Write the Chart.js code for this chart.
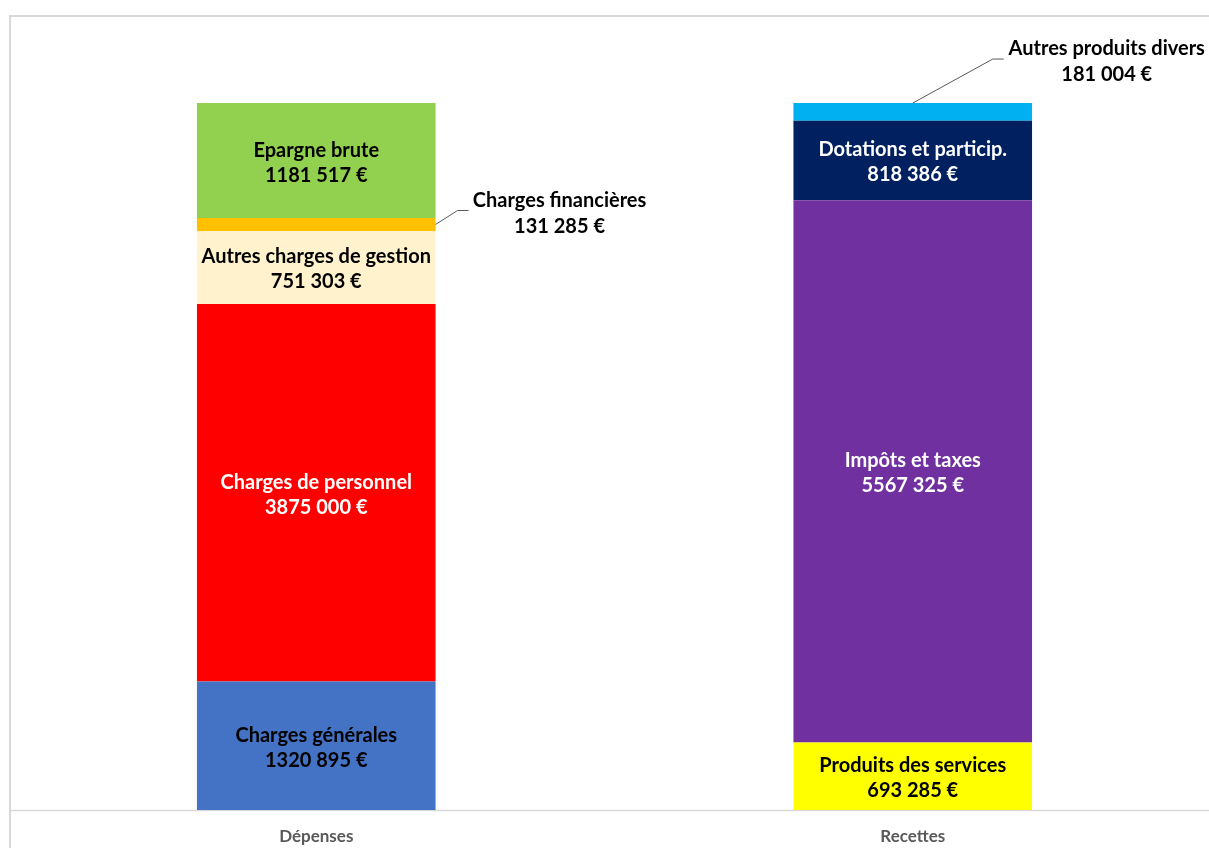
<!DOCTYPE html>
<html>
<head>
<meta charset="utf-8">
<script src="https://cdn.jsdelivr.net/npm/chart.js@4/dist/chart.umd.min.js"></script>
<style>
  html, body { margin: 0; padding: 0; background: #fff; overflow: hidden; }
  #chart { display: block; }
</style>
</head>
<body>
<canvas id="chart" width="1230" height="848"></canvas>
<script>
const categories = ["Dépenses", "Recettes"];

const depensesLabels = ["Charges générales", "Charges de personnel", "Autres charges de gestion", "Charges financières", "Epargne brute"];
const depensesValues = [1320895, 3875000, 751303, 131285, 1181517];
const depensesColors = ["#4472C4", "#FF0000", "#FFF2CC", "#FFC000", "#92D050"];
const depensesText = ["#000000", "#FFFFFF", "#000000", "#000000", "#000000"];

const recettesLabels = ["Produits des services", "Impôts et taxes", "Dotations et particip.", "Autres produits divers"];
const recettesValues = [693285, 5567325, 818386, 181004];
const recettesColors = ["#FFFF00", "#7030A0", "#002060", "#00B0F0"];
const recettesText = ["#000000", "#FFFFFF", "#FFFFFF", "#000000"];

// small segments get their label outside with a leader line
const callouts = {
  "Charges financières": { side: "right", elbow: [22, -14], end: [33, -14], text: [124, -26] },
  "Autres produits divers": { side: "top", elbow: [80, -44], end: [91, -44], text: [194, -57] },
};

const fmt = (v) => Math.floor(v / 1000) + " " + String(v % 1000).padStart(3, "0") + " €";

const datasets = [];
depensesLabels.forEach((l, i) => {
  datasets.push({ label: l, data: [depensesValues[i], null], backgroundColor: depensesColors[i], textColor: depensesText[i] });
});
recettesLabels.forEach((l, i) => {
  datasets.push({ label: l, data: [null, recettesValues[i]], backgroundColor: recettesColors[i], textColor: recettesText[i] });
});

const frame = {
  id: "frame",
  beforeDraw(chart) {
    const ctx = chart.ctx;
    const y0 = chart.scales.y.getPixelForValue(0);
    ctx.save();
    ctx.strokeStyle = "#D9D9D9";
    ctx.lineWidth = 2;
    ctx.beginPath();
    ctx.moveTo(10, chart.height);
    ctx.lineTo(10, 16);
    ctx.lineTo(chart.width, 16);
    ctx.stroke();
    ctx.lineWidth = 1.5;
    ctx.beginPath();
    ctx.moveTo(10, y0 + 0.5);
    ctx.lineTo(chart.width, y0 + 0.5);
    ctx.stroke();
    ctx.restore();
  },
};

const segLabels = {
  id: "segLabels",
  afterDatasetsDraw(chart) {
    const ctx = chart.ctx;
    ctx.save();
    ctx.font = "bold 20px Lato";
    ctx.textAlign = "center";
    ctx.textBaseline = "middle";
    chart.data.datasets.forEach((ds, di) => {
      const meta = chart.getDatasetMeta(di);
      ds.data.forEach((v, idx) => {
        if (v == null) return;
        const bar = meta.data[idx];
        const top = Math.min(bar.y, bar.base);
        const bot = Math.max(bar.y, bar.base);
        const cy = (top + bot) / 2 + 2;
        const c = callouts[ds.label];
        if (c) {
          const ax = c.side === "right" ? bar.x + bar.width / 2 : bar.x;
          const ay = c.side === "right" ? cy - 2 : top;
          ctx.strokeStyle = "#595959";
          ctx.lineWidth = 1;
          ctx.beginPath();
          ctx.moveTo(ax, ay);
          ctx.lineTo(ax + c.elbow[0], ay + c.elbow[1]);
          ctx.lineTo(ax + c.end[0], ay + c.end[1]);
          ctx.stroke();
          ctx.fillStyle = "#000000";
          ctx.fillText(ds.label, ax + c.text[0], ay + c.text[1] + 2);
          ctx.fillText(fmt(v), ax + c.text[0], ay + c.text[1] + 28);
        } else {
          ctx.fillStyle = ds.textColor;
          ctx.fillText(ds.label, bar.x, cy - 12.5);
          ctx.fillText(fmt(v), bar.x, cy + 12.5);
        }
      });
    });
    ctx.restore();
  },
};

new Chart(document.getElementById("chart"), {
  type: "bar",
  data: { labels: categories, datasets },
  options: {
    responsive: false,
    animation: false,
    layout: { padding: { left: 18, right: 19, top: 31, bottom: 0 } },
    datasets: { bar: { barPercentage: 1, categoryPercentage: 0.4, borderWidth: 0 } },
    plugins: { legend: { display: false }, tooltip: { enabled: false } },
    scales: {
      x: {
        stacked: true,
        offset: true,
        grid: { display: false, drawTicks: false },
        border: { display: false },
        ticks: { color: "#595959", font: { family: "Lato", size: 17, weight: "bold" }, padding: 16 },
        afterFit(scale) { scale.height = 38; },
      },
      y: { stacked: true, display: false, min: 0, max: 8000000 },
    },
  },
  plugins: [frame, segLabels],
});
</script>
</body>
</html>
